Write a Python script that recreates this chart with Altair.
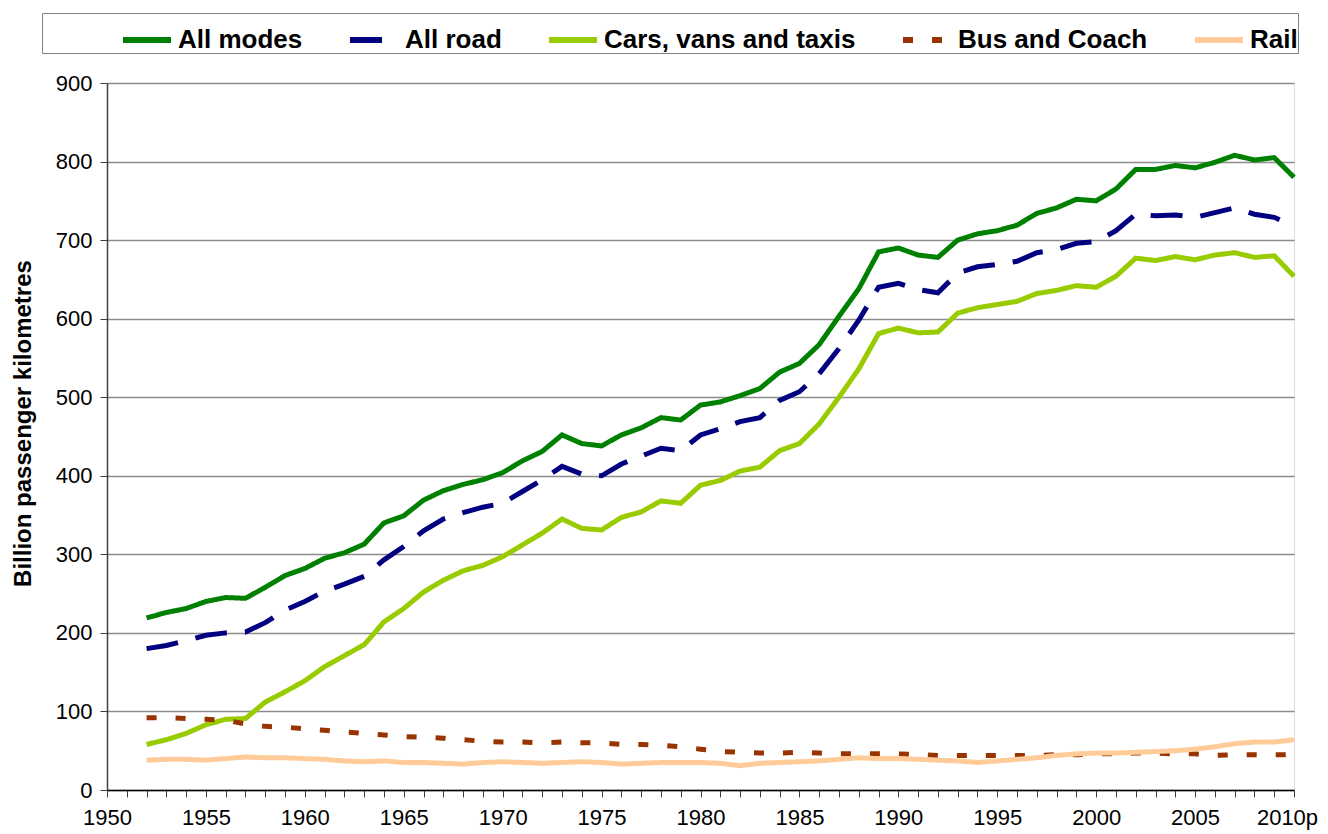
import altair as alt
import pandas as pd

years = list(range(1952, 2011))

all_modes = [219, 226, 231, 240, 245, 244, 258, 273, 282, 295,
             302, 313, 340, 349, 369, 381, 389, 395, 404, 419,
             431, 452, 441, 438, 452, 461, 474, 471, 490, 494,
             502, 511, 532, 543, 567, 603, 638, 685, 690, 681,
             678, 700, 708, 712, 719, 734, 741, 752, 750, 765,
             790, 790, 795, 792, 799, 808, 802, 805, 780]

all_road = [180, 184, 190, 197, 200, 201, 213, 229, 240, 253,
            262, 272, 293, 310, 330, 345, 353, 360, 365, 380,
            395, 412, 402, 400, 415, 425, 435, 432, 452, 460,
            469, 474, 496, 507, 530, 562, 598, 640, 645, 637,
            633, 658, 666, 669, 673, 684, 688, 696, 698, 712,
            733, 731, 732, 729, 735, 741, 733, 729, 718]

cars = [58, 64, 72, 83, 90, 91, 112, 125, 139, 157,
        171, 185, 214, 231, 252, 267, 279, 286, 297, 312,
        327, 345, 333, 331, 347, 354, 368, 365, 388, 394,
        406, 411, 432, 441, 466, 500, 536, 581, 588, 582,
        583, 607, 614, 618, 622, 632, 636, 642, 640, 654,
        677, 674, 679, 675, 681, 684, 678, 680, 654]

bus = [92, 92, 91, 90, 89, 84, 81, 80, 78, 76,
       74, 72, 70, 68, 67, 66, 64, 62, 61, 61,
       60, 61, 60, 60, 58, 58, 57, 55, 52, 49,
       48, 47, 47, 48, 47, 46, 46, 46, 46, 45,
       44, 44, 44, 44, 44, 44, 45, 45, 46, 46,
       47, 47, 46, 46, 44, 45, 45, 45, 45]

rail = [38, 39, 39, 38, 40, 42, 41, 41, 40, 39,
        37, 36, 37, 35, 35, 34, 33, 35, 36, 35,
        34, 35, 36, 35, 33, 34, 35, 35, 35, 34,
        31, 34, 35, 36, 37, 39, 41, 40, 40, 39,
        38, 37, 35, 37, 39, 41, 44, 46, 47, 47,
        48, 49, 50, 52, 55, 59, 61, 61, 64]

series_names = ["All modes", "All road", "Cars, vans and taxis", "Bus and Coach", "Rail"]
series_values = [all_modes, all_road, cars, bus, rail]
series_colors = ["#008000", "#000080", "#99CC00", "#993300", "#FFCC99"]
series_dashes = [[1, 0], [32, 18], [1, 0], [10, 19], [1, 0]]

rows = []
for name, vals in zip(series_names, series_values):
    for y, v in zip(years, vals):
        rows.append({"Year": y, "Value": v, "Series": name})
df = pd.DataFrame(rows)

FONT = "Liberation Sans"

x_ticks = list(range(1950, 2011))
y_ticks = list(range(0, 901, 100))

chart = alt.Chart(df).mark_line(strokeWidth=5, strokeCap="butt", strokeJoin="miter").encode(
    x=alt.X("Year:Q",
            scale=alt.Scale(domain=[1950, 2010], nice=False, zero=False),
            axis=alt.Axis(values=x_ticks,
                          labelExpr="datum.value % 5 == 0 ? (datum.value == 2010 ? '2010p' : toString(datum.value)) : ''",
                          labelOffset={"expr": "datum.value == 2010 ? -7 : 0"},
                          title=None, grid=False, labelOverlap=False, labelFlush=False,
                          tickSize=7, tickColor="#404040", domainColor="#000000",
                          domainWidth=1.5, labelFontSize=22, labelPadding=10,
                          labelColor="#000000", labelFont=FONT)),
    y=alt.Y("Value:Q",
            scale=alt.Scale(domain=[0, 900], nice=False),
            axis=alt.Axis(values=y_ticks, title="Billion passenger kilometres",
                          titleFontSize=24, titleFontWeight="bold", titleFont=FONT,
                          titleColor="#000000", titlePadding=20, titleY=340,
                          grid=True, gridColor="#8c8c8c", gridWidth=1.5,
                          tickSize=7, tickColor="#404040", domainColor="#404040",
                          domainWidth=1.5, labelFontSize=22, labelPadding=8,
                          labelColor="#000000", labelFont=FONT)),
    color=alt.Color("Series:N",
                    scale=alt.Scale(domain=series_names, range=series_colors),
                    legend=alt.Legend(orient="none", legendX=-65, legendY=-70,
                                      direction="horizontal", columns=5,
                                      title=" ", titleOrient="left", titlePadding=78,
                                      titleFontSize=10,
                                      strokeColor="#808080", padding=0,
                                      labelFontSize=26, labelFontWeight="bold",
                                      labelFont=FONT, labelColor="#000000",
                                      labelLimit=0,
                                      symbolType="stroke", symbolSize=2304,
                                      symbolStrokeWidth=6, labelOffset=4,
                                      columnPadding=35)),
    strokeDash=alt.StrokeDash("Series:N",
                              scale=alt.Scale(domain=series_names, range=series_dashes),
                              legend=None),
    order=alt.Order("Year:Q"),
).properties(
    width=1187, height=707,
    autosize=alt.AutoSizeParams(type="none"),
    padding={"left": 99, "top": 75, "right": 26, "bottom": 42},
).configure_view(stroke=None).configure(background="white")

chart.save("out.html", embed_options={"renderer": "svg", "actions": False})
